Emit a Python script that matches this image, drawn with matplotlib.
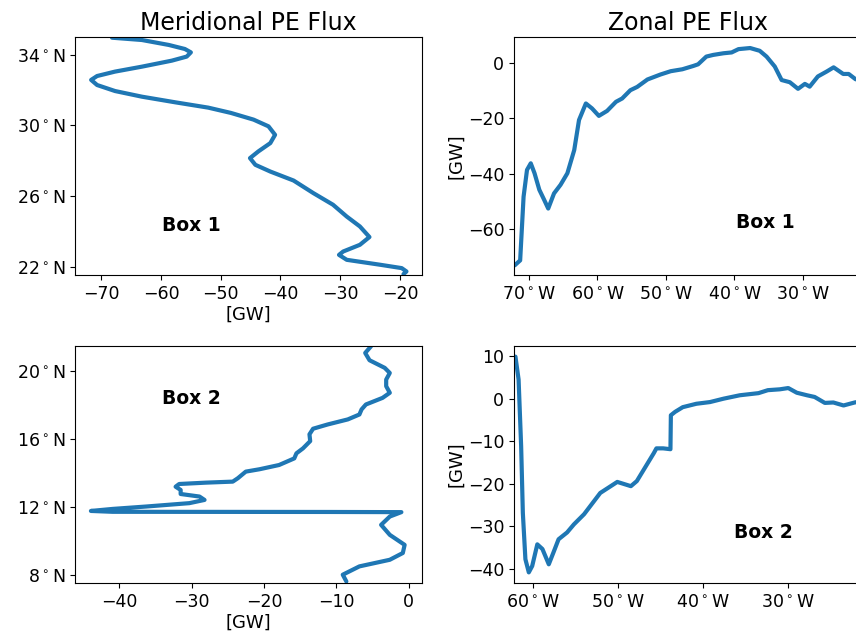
import matplotlib
matplotlib.use("Agg")
import matplotlib.pyplot as plt

# Meridional PE flux, box 1 (flux in GW vs latitude)
mer1_flux = [-68.2, -63.2, -58.7, -56.0, -55.0, -55.7, -58.2, -63.2, -67.7, -70.7, -71.7,
             -70.7, -67.7, -63.2, -57.6, -52.1, -48.3, -44.5, -42.0, -40.9, -41.7, -43.7,
             -45.1, -44.2, -41.7, -37.8, -34.5, -31.2, -28.9, -26.7, -25.1, -26.7, -29.5,
             -30.2, -28.9, -23.3, -19.7, -18.9, -19.4]
mer1_lat = [34.96, 34.83, 34.55, 34.32, 34.13, 33.89, 33.66, 33.32, 33.04, 32.79, 32.57,
            32.28, 31.94, 31.62, 31.30, 31.00, 30.70, 30.32, 29.94, 29.46, 28.99, 28.52,
            28.14, 27.76, 27.38, 26.87, 26.16, 25.50, 24.83, 24.27, 23.67, 23.23, 22.85,
            22.66, 22.38, 22.10, 21.91, 21.72, 21.57]

# Meridional PE flux, box 2
mer2_flux = [-5.2, -6.0, -5.4, -3.3, -2.6, -3.1, -3.1, -2.6, -3.6, -5.9, -6.5, -6.8, -8.4,
             -11.2, -13.2, -13.7, -13.6, -14.6, -15.5, -15.8, -17.9, -20.6, -22.5, -23.6,
             -24.3, -28.0, -31.7, -32.2, -31.5, -31.5, -28.9, -28.2, -30.3, -36.3, -40.9,
             -43.9, -40.9, -10.9, -1.0, -2.6, -3.8, -2.6, -0.55, -0.8, -2.6, -6.8, -9.1, -8.6]
mer2_lat = [21.47, 21.08, 20.65, 20.20, 19.90, 19.51, 19.12, 18.73, 18.43, 18.04, 17.75,
            17.45, 17.16, 16.86, 16.61, 16.28, 15.88, 15.45, 15.16, 14.86, 14.47, 14.22,
            14.08, 13.69, 13.49, 13.43, 13.35, 13.19, 13.00, 12.76, 12.61, 12.41, 12.22,
            12.02, 11.88, 11.76, 11.71, 11.70, 11.69, 11.43, 10.94, 10.35, 9.76, 9.28, 8.88,
            8.49, 8.00, 7.60]

# Zonal PE flux, box 1 (longitude, negative = west)
zon1_lon = [-72.1, -71.3, -70.8, -70.3, -69.75, -69.2, -68.5, -67.8, -67.2, -66.35, -65.4,
            -64.4, -63.4, -62.7, -61.7, -60.8, -59.8, -58.6, -57.3, -56.4, -55.2, -54.2,
            -52.7, -50.8, -49.3, -47.6, -46.0, -45.3, -44.1, -43.1, -41.6, -40.4, -39.4,
            -37.7, -36.3, -35.3, -34.1, -33.1, -31.9, -30.7, -29.7, -29.0, -27.8, -26.5,
            -25.5, -24.1, -23.3, -22.3, -21.4]
zon1_flux = [-73.3, -71.5, -48.4, -38.7, -36.3, -39.9, -45.9, -49.5, -52.7, -47.2, -44.1,
             -39.9, -31.5, -20.6, -14.6, -16.4, -19.1, -17.3, -14.0, -12.8, -9.8, -8.6,
             -5.9, -4.1, -2.9, -2.2, -1.0, -0.4, 2.4, 3.0, 3.6, 3.9, 5.1,
             5.5, 4.5, 2.4, -1.2, -6.1, -6.9, -9.3, -7.5, -8.5, -4.8, -3.0,
             -1.5, -3.9, -3.9, -5.8, -6.3]

# Zonal PE flux, box 2
zon2_lon = [-62.07, -61.7, -61.4, -61.2, -60.9, -60.5, -60.1, -59.5, -58.9, -58.15, -57.6,
            -57.0, -56.0, -55.2, -54.0, -52.1, -50.1, -48.5, -47.8, -45.8, -45.5, -44.7,
            -43.85, -43.8, -43.3, -42.4, -40.8, -39.2, -37.6, -35.7, -33.5, -32.4, -31.0,
            -30.0, -29.0, -27.8, -26.9, -25.7, -24.7, -23.5, -22.2, -21.4]
zon2_flux = [9.9, 4.5, -11.2, -26.9, -37.8, -40.9, -39.4, -34.3, -35.4, -39.0, -36.2,
             -33.1, -31.5, -29.6, -27.2, -22.2, -19.6, -20.6, -19.4, -12.8, -11.7, -11.7,
             -11.9, -3.9, -3.1, -2.0, -1.2, -0.8, 0.0, 0.8, 1.3, 2.0, 2.2,
             2.5, 1.4, 0.8, 0.4, -1.0, -0.9, -1.6, -0.9, -0.6]

lat_ticks1 = [22, 26, 30, 34]
lat_ticks2 = [8, 12, 16, 20]
lon_ticks1 = [-70, -60, -50, -40, -30]
lon_ticks2 = [-60, -50, -40, -30]


def lat_label(v):
    return r'%d$^\circ$N' % v


def lon_label(v):
    return r'%d$^\circ$W' % abs(v)


color = '#1f77b4'
line_kw = dict(color=color, lw=3, solid_joinstyle='round', solid_capstyle='round')
fig = plt.figure(figsize=(8.56, 6.38), dpi=100)
W, H = 856.0, 638.0


def add_ax(l, t, r, b):
    return fig.add_axes([l / W, 1 - b / H, (r - l) / W, (b - t) / H])


ax1 = add_ax(75, 37, 422, 275)
ax2 = add_ax(514, 37, 861, 275)
ax3 = add_ax(75, 346, 422, 583)
ax4 = add_ax(514, 346, 861, 583)

tick_fs = 12.5
label_fs = 13
box_fs = 13.5

# top-left
ax1.plot(mer1_flux, mer1_lat, **line_kw)
ax1.set_ylim(21.52, 35.0)
ax1.set_xlim(-74.4, -16.3)
ax1.set_yticks(lat_ticks1)
ax1.set_yticklabels([lat_label(v) for v in lat_ticks1])
ax1.set_xlabel('[GW]', fontsize=label_fs, labelpad=2)
ax1.set_title('Meridional PE Flux', fontsize=17, pad=5)
ax1.text(0.25, 0.21, 'Box 1', transform=ax1.transAxes, fontsize=box_fs,
         fontweight='bold', ha='left', va='center')

# top-right
ax2.plot(zon1_lon, zon1_flux, **line_kw)
ax2.set_xlim(-72.2, -21.5)
ax2.set_ylim(-76.8, 9.5)
ax2.set_xticks(lon_ticks1)
ax2.set_xticklabels([lon_label(v) for v in lon_ticks1])
ax2.set_yticks([-60, -40, -20, 0])
ax2.set_ylabel('[GW]', fontsize=label_fs, labelpad=2)
ax2.set_title('Zonal PE Flux', fontsize=17, pad=5)
ax2.text(0.64, 0.22, 'Box 1', transform=ax2.transAxes, fontsize=box_fs,
         fontweight='bold', ha='left', va='center')

# bottom-left
ax3.plot(mer2_flux, mer2_lat, **line_kw)
ax3.set_ylim(7.51, 21.49)
ax3.set_xlim(-46.1, 1.85)
ax3.set_yticks(lat_ticks2)
ax3.set_yticklabels([lat_label(v) for v in lat_ticks2])
ax3.set_xticks([-40, -30, -20, -10, 0])
ax3.set_xlabel('[GW]', fontsize=label_fs, labelpad=2)
ax3.text(0.25, 0.78, 'Box 2', transform=ax3.transAxes, fontsize=box_fs,
         fontweight='bold', ha='left', va='center')

# bottom-right
ax4.plot(zon2_lon, zon2_flux, **line_kw)
ax4.set_xlim(-62.24, -21.45)
ax4.set_ylim(-43.4, 12.4)
ax4.set_xticks(lon_ticks2)
ax4.set_xticklabels([lon_label(v) for v in lon_ticks2])
ax4.set_yticks([-40, -30, -20, -10, 0, 10])
ax4.set_ylabel('[GW]', fontsize=label_fs, labelpad=2)
ax4.text(0.635, 0.214, 'Box 2', transform=ax4.transAxes, fontsize=box_fs,
         fontweight='bold', ha='left', va='center')

for ax in (ax1, ax2, ax3, ax4):
    ax.tick_params(labelsize=tick_fs)

fig.savefig('out.png', dpi=100)
